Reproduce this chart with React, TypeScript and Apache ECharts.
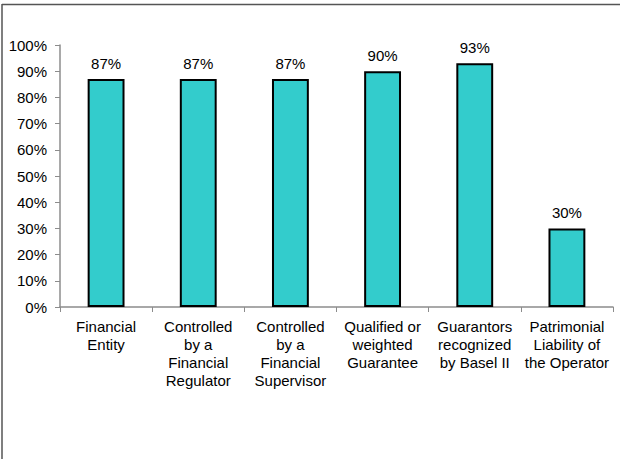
import React, { useEffect, useRef } from "react";
import * as echarts from "echarts";

const categories = [
  "Financial\nEntity",
  "Controlled\nby a\nFinancial\nRegulator",
  "Controlled\nby a\nFinancial\nSupervisor",
  "Qualified or\nweighted\nGuarantee",
  "Guarantors\nrecognized\nby Basel II",
  "Patrimonial\nLiability of\nthe Operator",
];
const values = [87, 87, 87, 90, 93, 30];

export default function App() {
  const ref = useRef<HTMLDivElement>(null);
  useEffect(() => {
    if (!ref.current) return;
    const chart = echarts.init(ref.current, undefined, { renderer: "svg" });
    const font = "'Liberation Sans', Arial, sans-serif";
    chart.setOption({
      animation: false,
      backgroundColor: "#ffffff",
      textStyle: { fontFamily: font },
      grid: { left: 60, right: 7, top: 45, bottom: 152, containLabel: false },
      graphic: [
        { type: "line", shape: { x1: 2, y1: 4.5, x2: 620, y2: 4.5 }, style: { stroke: "#555", lineWidth: 1.5 } },
        { type: "line", shape: { x1: 2, y1: 4, x2: 2, y2: 459 }, style: { stroke: "#555", lineWidth: 1.5 } },
      ],
      xAxis: {
        type: "category",
        data: categories,
        axisLine: { lineStyle: { color: "#8c8c8c", width: 1.5 } },
        axisTick: { show: true, length: 5, inside: false, alignWithLabel: false, lineStyle: { color: "#8c8c8c" } },
        axisLabel: {
          interval: 0,
          color: "#000",
          fontSize: 15,
          lineHeight: 18,
          margin: 10,
          fontFamily: font,
        },
      },
      yAxis: {
        type: "value",
        min: 0,
        max: 100,
        interval: 10,
        splitLine: { show: false },
        axisLine: { show: true, lineStyle: { color: "#8c8c8c", width: 1.5 } },
        axisTick: { show: true, length: 5, lineStyle: { color: "#8c8c8c" } },
        axisLabel: {
          color: "#000",
          fontSize: 15,
          margin: 13,
          formatter: "{value}%",
          fontFamily: font,
        },
      },
      series: [
        {
          type: "bar",
          data: values,
          barWidth: "40%",
          itemStyle: { color: "#33CCCC", borderColor: "#000", borderWidth: 2 },
          label: {
            show: true,
            position: "top",
            distance: 8,
            color: "#000",
            fontSize: 15,
            fontFamily: font,
            formatter: "{c}%",
          },
        },
      ],
    });
    return () => chart.dispose();
  }, []);
  return (
    <div
      ref={ref}
      style={{ position: "fixed", left: 0, top: 0, width: 620, height: 459, background: "#fff" }}
    />
  );
}
